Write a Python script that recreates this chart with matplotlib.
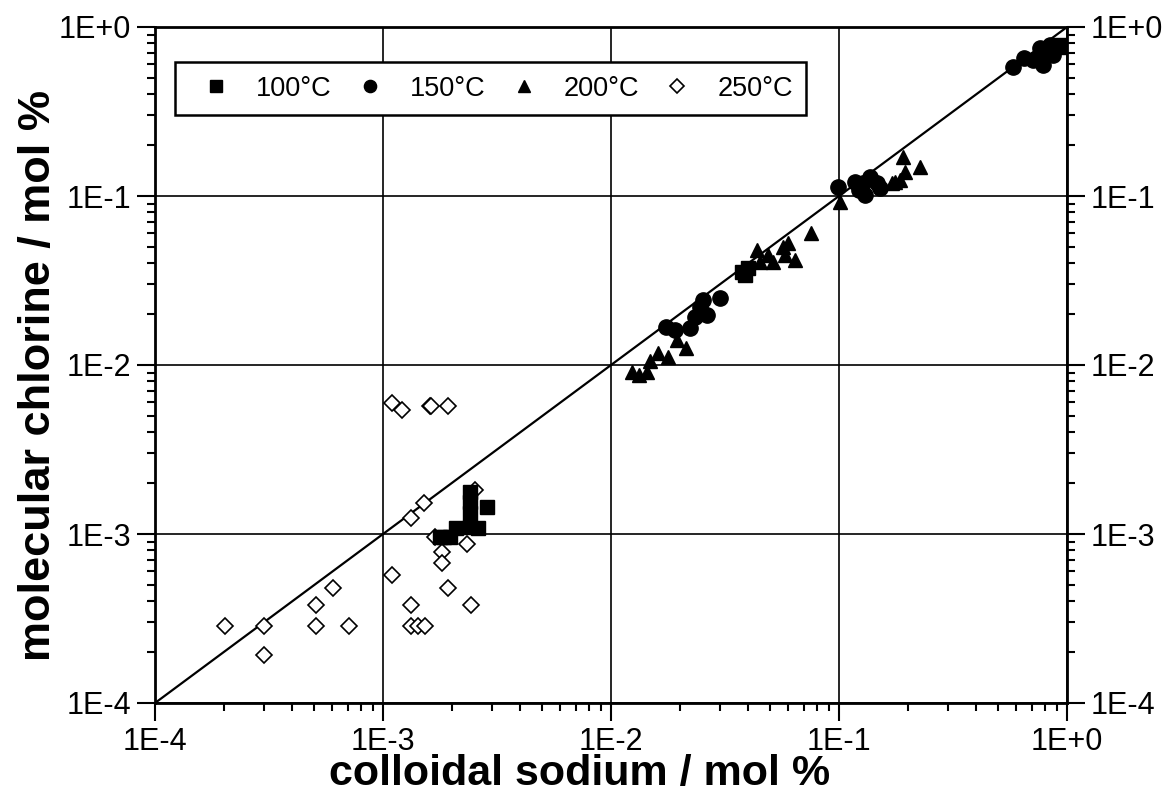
import numpy as np
import matplotlib
matplotlib.use("Agg")
import matplotlib.pyplot as plt
from matplotlib.ticker import LogLocator, FuncFormatter, NullFormatter

plt.rcParams['font.family'] = ['Liberation Sans', 'DejaVu Sans']

# 100°C
x100 = [1.78e-3, 1.85e-3, 1.97e-3, 2.10e-3, 2.41e-3, 2.41e-3, 2.41e-3, 2.41e-3, 2.85e-3, 2.62e-3,
        3.74e-2, 4.0e-2, 3.87e-2,
        0.87, 0.92, 0.96]
y100 = [9.6e-4, 9.6e-4, 9.6e-4, 1.08e-3, 1.78e-3, 1.55e-3, 1.33e-3, 1.10e-3, 1.45e-3, 1.08e-3,
        3.56e-2, 3.73e-2, 3.41e-2,
        0.76, 0.78, 0.76]

# 150°C
x150 = [1.75e-2, 1.91e-2, 2.22e-2, 2.33e-2, 2.46e-2, 2.63e-2, 2.54e-2, 3.0e-2,
        9.93e-2, 0.117, 0.128, 0.137, 0.146, 0.130, 0.122, 0.151,
        0.582, 0.645, 0.711, 0.762, 0.787, 0.841, 0.901, 0.871, 0.76]
y150 = [1.67e-2, 1.61e-2, 1.65e-2, 1.93e-2, 2.21e-2, 1.98e-2, 2.43e-2, 2.48e-2,
        0.1135, 0.1215, 0.119, 0.130, 0.119, 0.101, 0.108, 0.111,
        0.582, 0.653, 0.638, 0.748, 0.596, 0.782, 0.764, 0.683, 0.66]

# 200°C
x200 = [1.23e-2, 1.32e-2, 1.44e-2, 1.48e-2, 1.61e-2, 1.78e-2, 1.94e-2, 2.13e-2,
        4.35e-2, 4.9e-2, 5.14e-2, 4.5e-2, 5.7e-2, 6.0e-2, 5.8e-2, 7.5e-2, 6.4e-2,
        0.101, 0.176, 0.185, 0.195, 0.191, 0.226, 0.170]
y200 = [9.1e-3, 8.7e-3, 9.1e-3, 1.05e-2, 1.17e-2, 1.12e-2, 1.41e-2, 1.26e-2,
        4.79e-2, 4.48e-2, 4.09e-2, 4.07e-2, 5.0e-2, 5.25e-2, 4.48e-2, 6.0e-2, 4.18e-2,
        0.0925, 0.1215, 0.124, 0.139, 0.171, 0.149, 0.119]

# 250°C
x250 = [1.10e-3, 1.21e-3, 1.61e-3, 1.63e-3, 1.92e-3, 2.53e-3, 1.51e-3, 1.32e-3, 1.69e-3,
        2.33e-3, 1.81e-3, 1.81e-3, 1.10e-3, 1.92e-3, 2.42e-3, 1.32e-3, 1.32e-3, 1.42e-3,
        1.53e-3, 6.05e-4, 5.07e-4, 5.07e-4, 7.1e-4, 2.03e-4, 3.02e-4, 3.02e-4]
y250 = [5.93e-3, 5.42e-3, 5.72e-3, 5.72e-3, 5.72e-3, 1.82e-3, 1.52e-3, 1.24e-3, 9.6e-4,
        8.7e-4, 7.8e-4, 6.7e-4, 5.7e-4, 4.8e-4, 3.8e-4, 3.8e-4, 2.87e-4, 2.87e-4,
        2.87e-4, 4.8e-4, 3.8e-4, 2.87e-4, 2.87e-4, 2.87e-4, 2.87e-4, 1.92e-4]

lims = [1e-4, 1e0]

fig = plt.figure(figsize=(11.7, 8), dpi=100)
ax = fig.add_axes([0.1325, 0.12125, 0.7795, 0.845])
ax.set_xscale('log')
ax.set_yscale('log')
ax.set_xlim(lims)
ax.set_ylim(lims)

ax.grid(True, which='major', color='black', linewidth=1.2)
ax.plot(lims, lims, color='black', linewidth=1.6, zorder=2)

ax.plot(x250, y250, linestyle='none', marker='D', markersize=8.5, markerfacecolor='white',
        markeredgecolor='black', markeredgewidth=1.2, label='250°C', zorder=3)
ax.plot(x100, y100, linestyle='none', marker='s', markersize=10.5, color='black', label='100°C', zorder=4)
ax.plot(x150, y150, linestyle='none', marker='o', markersize=11, color='black', label='150°C', zorder=4)
ax.plot(x200, y200, linestyle='none', marker='^', markersize=10, color='black', label='200°C', zorder=4)

fmt = FuncFormatter(lambda v, p: "1E%+d" % int(round(np.log10(v))))
for axis in (ax.xaxis, ax.yaxis):
    axis.set_major_locator(LogLocator(base=10, numticks=10))
    axis.set_minor_locator(LogLocator(base=10, subs=np.arange(2, 10), numticks=10))
    axis.set_major_formatter(fmt)
    axis.set_minor_formatter(NullFormatter())

ax.tick_params(which='both', direction='out', top=False, right=True, labelright=True,
               labelsize=22, width=1.5, color='black')
ax.tick_params(which='major', length=13, pad=4)
ax.tick_params(which='minor', length=6)
for s in ax.spines.values():
    s.set_linewidth(2)

ax.set_xlabel('colloidal sodium / mol %', fontsize=31, fontweight='bold')
ax.xaxis.set_label_coords(0.465, -0.075)
ax.set_ylabel('molecular chlorine / mol %', fontsize=32.5, fontweight='bold')
ax.yaxis.set_label_coords(-0.105, 0.485)

handles, labels = ax.get_legend_handles_labels()
order = [1, 2, 3, 0]
leg = ax.legend([handles[i] for i in order], [labels[i] for i in order], ncol=4,
                loc='upper left', bbox_to_anchor=(0.022, 0.948), borderaxespad=0,
                fontsize=19.5, frameon=True, fancybox=False, edgecolor='black',
                framealpha=1, markerscale=0.8, handlelength=2.0, handletextpad=0.48,
                columnspacing=0.41, borderpad=0.5)
leg.get_frame().set_linewidth(1.8)

fig.savefig('out.png', dpi=100)
